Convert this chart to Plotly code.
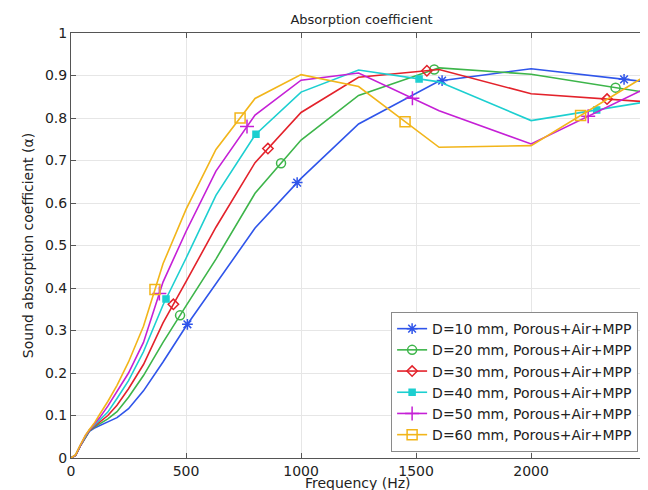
import numpy as np
import plotly.graph_objects as go

freq = [0, 20, 40, 63, 80, 100, 125, 160, 200, 250, 315, 400, 500, 630, 800, 1000, 1250, 1600, 2000, 2500]

labels = [
    "D=10 mm, Porous+Air+MPP",
    "D=20 mm, Porous+Air+MPP",
    "D=30 mm, Porous+Air+MPP",
    "D=40 mm, Porous+Air+MPP",
    "D=50 mm, Porous+Air+MPP",
    "D=60 mm, Porous+Air+MPP",
]

alpha_10 = [0, 0.006, 0.028, 0.05, 0.063, 0.07, 0.077, 0.085, 0.095, 0.116, 0.158, 0.226, 0.31, 0.41, 0.541, 0.658, 0.786, 0.887, 0.916, 0.885]
alpha_20 = [0, 0.006, 0.028, 0.05, 0.064, 0.072, 0.081, 0.092, 0.109, 0.143, 0.194, 0.272, 0.358, 0.468, 0.623, 0.748, 0.853, 0.918, 0.903, 0.860]
alpha_30 = [0, 0.006, 0.028, 0.051, 0.065, 0.074, 0.085, 0.100, 0.124, 0.163, 0.22, 0.318, 0.415, 0.543, 0.695, 0.813, 0.896, 0.914, 0.857, 0.838]
alpha_40 = [0, 0.007, 0.029, 0.052, 0.066, 0.076, 0.09, 0.108, 0.14, 0.182, 0.25, 0.36, 0.47, 0.618, 0.76, 0.861, 0.913, 0.885, 0.794, 0.838]
alpha_50 = [0, 0.007, 0.029, 0.053, 0.066, 0.078, 0.095, 0.122, 0.157, 0.2, 0.272, 0.414, 0.533, 0.675, 0.807, 0.889, 0.906, 0.817, 0.739, 0.870]
alpha_60 = [0, 0.008, 0.03, 0.054, 0.067, 0.081, 0.103, 0.133, 0.171, 0.226, 0.31, 0.457, 0.585, 0.726, 0.846, 0.902, 0.874, 0.731, 0.735, 0.900]

# frequencies where the plot markers sit along each curve
marker_freq_10 = [506, 983, 1613, 2404]
marker_freq_20 = [474, 913, 1579, 2367]
marker_freq_30 = [445, 856, 1547, 2330]
marker_freq_40 = [413, 804, 1513, 2285]
marker_freq_50 = [384, 765, 1484, 2248]
marker_freq_60 = [365, 735, 1452, 2215]

series = [alpha_10, alpha_20, alpha_30, alpha_40, alpha_50, alpha_60]
marker_freqs = [marker_freq_10, marker_freq_20, marker_freq_30, marker_freq_40, marker_freq_50, marker_freq_60]
colors = ["#2f55ea", "#3db54a", "#e3222b", "#1ccfd0", "#c520d6", "#f2b51a"]
symbols = ["asterisk-open", "circle-open", "diamond-open", "square", "cross-thin-open", "square-open"]
sizes = [9, 9, 8, 6, 10, 10]

FONT = "DejaVu Sans, Arial, sans-serif"

fig = go.Figure()
for lab, ys, mf, c, sym, sz in zip(labels, series, marker_freqs, colors, symbols, sizes):
    fig.add_trace(go.Scatter(
        x=freq, y=ys, mode="lines", line=dict(color=c, width=1.6),
        showlegend=False, hoverinfo="skip",
    ))
    my = np.interp(mf, freq, ys)
    mx_list, my_list = [], []
    for a, b in zip(mf, my):
        mx_list += [a, None]
        my_list += [float(b), None]
    fig.add_trace(go.Scatter(
        x=mx_list, y=my_list, mode="lines+markers", name=lab,
        line=dict(color=c, width=1.6),
        marker=dict(symbol=sym, size=sz, color=c, line=dict(color=c, width=1.5)),
        connectgaps=False,
    ))

axis_common = dict(
    showgrid=True, gridcolor="#e6e6e6", gridwidth=1,
    showline=True, linecolor="#555555", linewidth=1, mirror="ticks",
    ticks="inside", ticklen=5, tickcolor="#555555",
    tickfont=dict(family=FONT, size=14, color="#222222"),
    zeroline=False, automargin=False,
)

# the page body has an 8px margin, so the figure is sized/offset to compensate
fig.update_layout(
    width=640, height=482,
    margin=dict(l=63, r=3, t=25, b=32),
    paper_bgcolor="white", plot_bgcolor="white",
    title=dict(text="Absorption coefficient", x=0.5525, xanchor="center", y=0.977, yanchor="middle",
               font=dict(family=FONT, size=13, color="#222222")),
    xaxis=dict(range=[0, 2495], tickvals=[0, 500, 1000, 1500, 2000], **axis_common),
    yaxis=dict(range=[0, 1], tickvals=[0, 0.1, 0.2, 0.3, 0.4, 0.5, 0.6, 0.7, 0.8, 0.9, 1],
               ticktext=["0", "0.1", "0.2", "0.3", "0.4", "0.5", "0.6", "0.7", "0.8", "0.9", "1"],
               title=dict(text="Sound absorption coefficient (α)", standoff=8,
                          font=dict(family=FONT, size=14, color="#222222")),
               **axis_common),
    legend=dict(x=0.988, y=0.014, xanchor="right", yanchor="bottom",
                bgcolor="white", bordercolor="#8a8a8a", borderwidth=1,
                font=dict(family=FONT, size=14, color="#222222"),
                itemwidth=30, tracegroupgap=0),
    showlegend=True,
    annotations=[dict(text="Frequency (Hz)", xref="paper", yref="paper", x=0.5, y=-0.059,
                      xanchor="center", yanchor="middle", showarrow=False,
                      font=dict(family=FONT, size=14, color="#222222"))],
)

fig.write_html("out.html")
